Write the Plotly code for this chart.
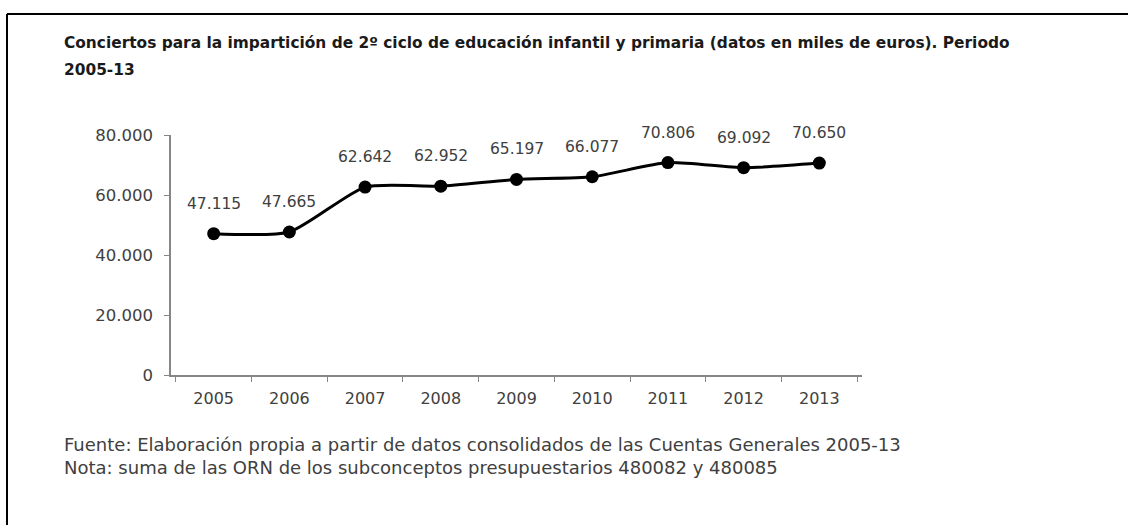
import plotly.graph_objects as go

years = ["2005", "2006", "2007", "2008", "2009", "2010", "2011", "2012", "2013"]
values = [47115, 47665, 62642, 62952, 65197, 66077, 70806, 69092, 70650]
labels = ["47.115", "47.665", "62.642", "62.952", "65.197", "66.077", "70.806", "69.092", "70.650"]
y_ticks = [0, 20000, 40000, 60000, 80000]

title_1 = "Conciertos para la impartición de 2º ciclo de educación infantil y primaria (datos en miles de euros). Periodo"
title_2 = "2005-13"
note_1 = "Fuente: Elaboración propia a partir de datos consolidados de las Cuentas Generales 2005-13"
note_2 = "Nota: suma de las ORN de los subconceptos presupuestarios 480082 y 480085"

W, H = 1128, 525
L, R, T, B = 171, 266, 135, 150
pw, ph = W - L - R, H - T - B

def px(x):
    return (x - L) / pw

def py(y):
    return (H - B - y) / ph

FONT = "DejaVu Sans"

fig = go.Figure()
fig.add_trace(go.Scatter(
    x=years, y=values, mode="lines+markers",
    line=dict(color="black", width=3, shape="spline", smoothing=0.6),
    marker=dict(color="black", size=13),
    hoverinfo="skip", showlegend=False,
))

for i, (v, t) in enumerate(zip(values, labels)):
    fig.add_annotation(x=i, y=v, text=t, showarrow=False, yshift=30,
                       font=dict(family=FONT, size=15.5, color="#404040"))

anns = [
    (title_1, 43, True, 15.4, "#1a1a1a"),
    (title_2, 70, True, 15.4, "#1a1a1a"),
    (note_1, 444, False, 18, "#404040"),
    (note_2, 467, False, 18, "#404040"),
]
for text, ypos, bold, size, color in anns:
    fig.add_annotation(xref="paper", yref="paper", x=px(62), y=py(ypos),
                       xanchor="left", yanchor="middle", showarrow=False,
                       text=f"<b>{text}</b>" if bold else text,
                       font=dict(family=FONT, size=size, color=color))

# frame
fig.add_shape(type="line", xref="paper", yref="paper", x0=px(7), x1=px(1130), y0=py(14), y1=py(14),
              line=dict(color="black", width=2))
fig.add_shape(type="line", xref="paper", yref="paper", x0=px(7), x1=px(7), y0=py(14), y1=py(530),
              line=dict(color="black", width=2))

fig.update_layout(
    width=W, height=H, margin=dict(l=L, r=R, t=T, b=B),
    paper_bgcolor="white", plot_bgcolor="white",
    separators=",.",
    font=dict(family=FONT, size=16, color="#404040"),
    xaxis=dict(type="category", showline=True, linecolor="#868686", linewidth=1.5,
               ticks="outside", tickson="boundaries", ticklen=5, tickcolor="#868686",
               ticklabelstandoff=8,
               showgrid=False, tickfont=dict(size=16, color="#404040")),
    yaxis=dict(range=[0, 80000], tickvals=y_ticks, tickformat=",d", showline=True,
               linecolor="#868686", linewidth=1.5, ticks="outside", ticklen=5,
               tickcolor="#868686", showgrid=False, zeroline=False,
               ticklabelstandoff=8,
               tickfont=dict(size=16.5, color="#404040")),
)

fig.write_html("out.html")
